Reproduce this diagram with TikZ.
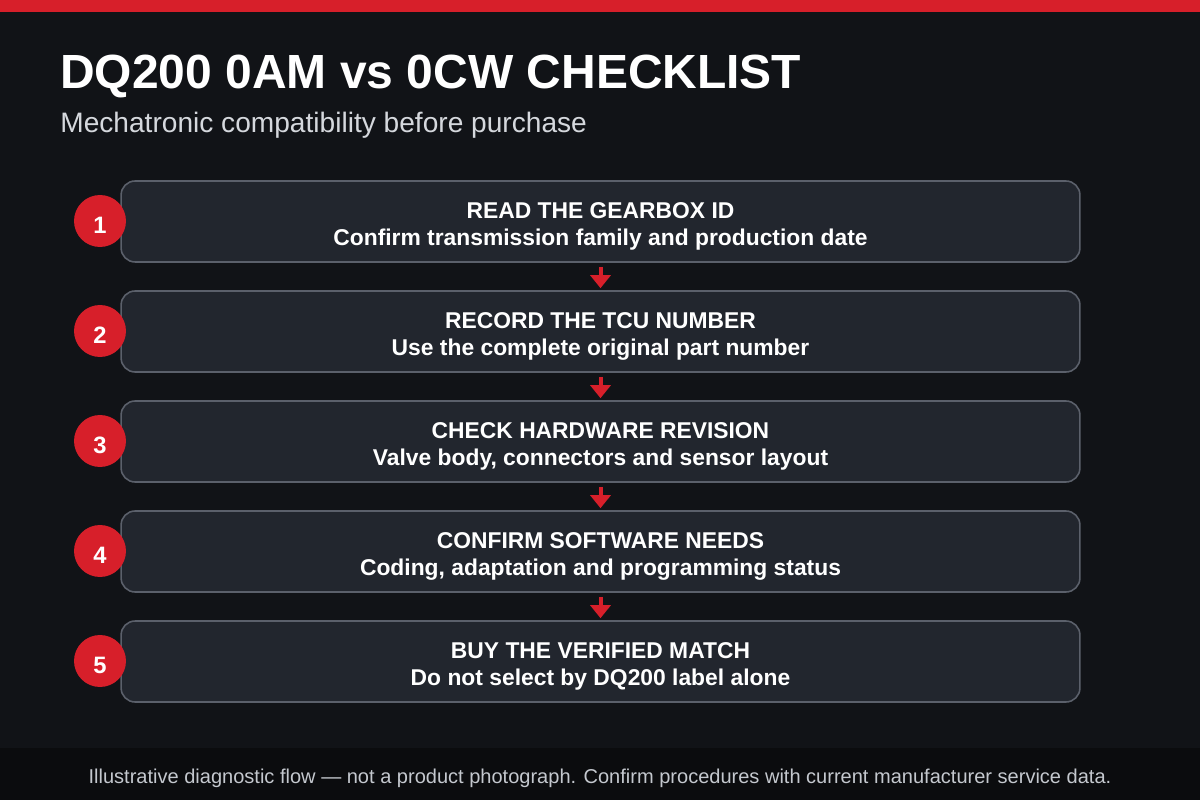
\documentclass[tikz,border=0pt]{standalone}
\usepackage{fontspec}
\setmainfont{Liberation Sans}
\usetikzlibrary{arrows.meta}
\definecolor{bgdark}{HTML}{111317}
\definecolor{footbg}{HTML}{0B0C0E}
\definecolor{accent}{HTML}{D71F2A}
\definecolor{cardfill}{HTML}{22262E}
\definecolor{cardline}{HTML}{5B606B}
\definecolor{subgray}{HTML}{D5D8DD}
\definecolor{footgray}{HTML}{C4C8CE}
\tikzset{
  card/.style={draw=cardline,line width=0.9pt,fill=cardfill,rounded corners=0.28cm,
    minimum width=19.18cm,minimum height=1.62cm},
  cardtext/.style={align=center,text=white,inner sep=0pt,
    font=\bfseries\fontsize{13}{15.3}\selectfont},
  badge/.style={circle,fill=accent,minimum size=1.04cm,inner sep=0pt},
  badgetext/.style={text=white,inner sep=0pt,font=\bfseries\fontsize{13.5}{14}\selectfont},
  flow/.style={-{Triangle[width=0.4cm,length=0.26cm]},draw=accent,fill=accent,
    line width=0.08cm,shorten <=0.08cm,shorten >=0.04cm}
}

\begin{document}
\begin{tikzpicture}[x=0.02cm,y=-0.02cm]
\useasboundingbox (0,0) rectangle (1200,800);
% background
\fill[bgdark] (0,0) rectangle (1200,800);
\fill[accent] (0,0) rectangle (1200,12);
\fill[footbg] (0,748) rectangle (1200,800);

% title
\node[anchor=base west,inner sep=0pt,text=white,font=\bfseries\fontsize{27.3}{30}\selectfont] (title) at (60,89) {DQ200 0AM vs 0CW CHECKLIST};
\node[anchor=base west,inner sep=0pt,text=subgray,font=\fontsize{16}{18}\selectfont] (subtitle) at (60,133) {Mechatronic compatibility before purchase};

% steps
\node[card] (s1) at (600.5,221.5) {};
\node[card] (s2) at (600.5,331.5) {};
\node[card] (s3) at (600.5,441.5) {};
\node[card] (s4) at (600.5,551.5) {};
\node[card] (s5) at (600.5,661.5) {};

\node[cardtext] (t1) at ([yshift=-0.1cm]s1.center) {READ THE GEARBOX ID\\Confirm transmission family and production date};
\node[cardtext] (t2) at ([yshift=-0.1cm]s2.center) {RECORD THE TCU NUMBER\\Use the complete original part number};
\node[cardtext] (t3) at ([yshift=-0.1cm]s3.center) {CHECK HARDWARE REVISION\\Valve body, connectors and sensor layout};
\node[cardtext] (t4) at ([yshift=-0.1cm]s4.center) {CONFIRM SOFTWARE NEEDS\\Coding, adaptation and programming status};
\node[cardtext] (t5) at ([yshift=-0.1cm]s5.center) {BUY THE VERIFIED MATCH\\Do not select by DQ200 label alone};

\node[badge] (n1) at (100,221) {};
\node[badge] (n2) at (100,331) {};
\node[badge] (n3) at (100,441) {};
\node[badge] (n4) at (100,551) {};
\node[badge] (n5) at (100,661) {};
\node[badgetext] at ([yshift=-0.09cm]n1.center) {1};
\node[badgetext] at ([yshift=-0.09cm]n2.center) {2};
\node[badgetext] at ([yshift=-0.09cm]n3.center) {3};
\node[badgetext] at ([yshift=-0.09cm]n4.center) {4};
\node[badgetext] at ([yshift=-0.09cm]n5.center) {5};

\draw[flow] (s1) -- (s2);
\draw[flow] (s2) -- (s3);
\draw[flow] (s3) -- (s4);
\draw[flow] (s4) -- (s5);

% footer
\node[anchor=base,inner sep=0pt,text=footgray,font=\fontsize{11.4}{12}\selectfont] (note) at (600,783) {Illustrative diagnostic flow — not a product photograph. Confirm procedures with current manufacturer service data.};
\end{tikzpicture}
\end{document}
